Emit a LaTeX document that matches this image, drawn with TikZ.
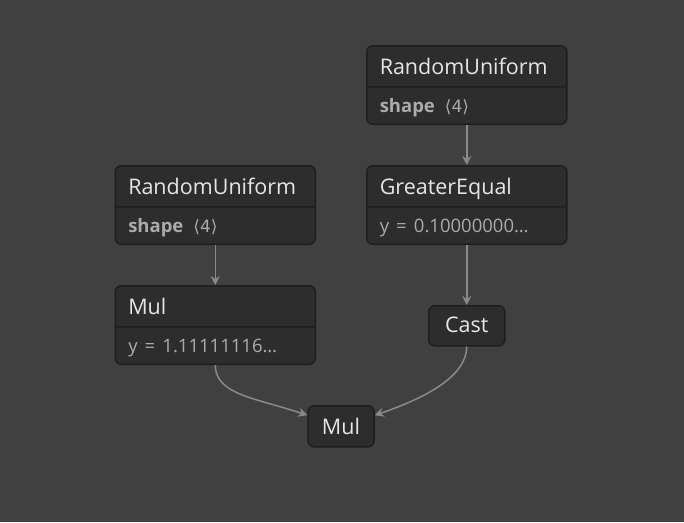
\documentclass[tikz,border=0pt]{standalone}
\usepackage{fontspec}
\setmainfont{Open Sans}
\newfontfamily\symfont{DejaVu Sans}
\usetikzlibrary{positioning,shapes.multipart,arrows.meta}
\definecolor{canvas}{HTML}{404040}
\definecolor{opfill}{HTML}{2D2D2D}
\definecolor{opline}{HTML}{1E1E1E}
\definecolor{optext}{HTML}{E6E6E6}
\definecolor{attrtext}{HTML}{ABABAB}
\definecolor{edgecol}{HTML}{8A8A8A}
\newcommand\headrow{\rule[-11.5pt]{0pt}{39.5pt}}
\newcommand\attrrow{\rule[-11pt]{0pt}{36pt}}
\newcommand\attrfont{\fontsize{18.5}{22}\selectfont\color{attrtext}}
\tikzset{
  op/.style={rectangle split, rectangle split parts=2, draw=opline, line width=1.5pt,
    fill=opfill, rounded corners=6pt, text width=174pt, inner xsep=13pt, inner ysep=0pt,
    align=left, text=optext, font=\fontsize{21.5}{25}\selectfont},
  smallop/.style={draw=opline, line width=1.5pt, fill=opfill, rounded corners=6pt,
    inner xsep=0pt, inner ysep=0pt, text=optext, font=\fontsize{21.5}{25}\selectfont},
  flow/.style={draw=edgecol, line width=1.5pt, -{Stealth[length=9pt,width=9pt,inset=3pt]}}
}
\begin{document}
\begin{tikzpicture}
\useasboundingbox[fill=canvas] (0,0) rectangle (684pt,-522pt);
\node[op, anchor=north west] (ru2) at (366pt,-45pt) {\headrow RandomUniform\nodepart{two}\attrrow{\attrfont\bfseries shape} {\attrfont\symfont\fontsize{17}{20}\selectfont\,⟨4⟩}};
\node[op, below=40pt of ru2] (ge) {\headrow GreaterEqual\nodepart{two}\attrrow{\attrfont y = 0.10000000…}};
\node[op, left=50pt of ge] (ru1) {\headrow RandomUniform\nodepart{two}\attrrow{\attrfont\bfseries shape} {\attrfont\symfont\fontsize{17}{20}\selectfont\,⟨4⟩}};
\node[op, below=40pt of ru1] (mul1) {\headrow Mul\nodepart{two}\attrrow{\attrfont y = 1.11111116…}};
\node[smallop, minimum width=76pt, below=60pt of ge] (cast) {\rule[-13pt]{0pt}{40pt}Cast};
\node[smallop, minimum width=66pt, anchor=north] (mul2) at (341pt,-405pt) {\rule[-12pt]{0pt}{41pt}Mul};
\draw[flow] (ru2) -- (ge);
\draw[flow] (ru1) -- (mul1);
\draw[flow] (ge) -- (cast);
\draw[flow] (mul1.south) .. controls +(0,-30pt) and +(-50pt,17pt) .. ([yshift=11pt]mul2.west);
\draw[flow] (cast.south) .. controls +(0,-30pt) and +(50pt,17pt) .. ([yshift=11pt]mul2.east);
\end{tikzpicture}
\end{document}
